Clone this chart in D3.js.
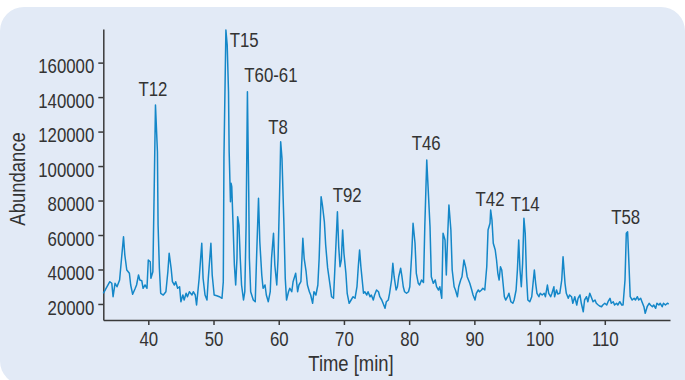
<!DOCTYPE html>
<html><head><meta charset="utf-8">
<script src="https://cdn.jsdelivr.net/npm/d3@7"></script>
<style>
html,body{margin:0;padding:0;background:#fff;}
svg{display:block;}
text{font-family:"Liberation Sans",Arial,sans-serif;fill:#333;}
</style></head><body>
<svg id="c" width="685" height="380"></svg>
<script>
const time = [33.1,34.1,34.4,34.6,34.9,35.2,35.6,35.9,36.2,36.4,36.7,37.1,37.3,37.6,38.0,38.2,38.5,38.7,39.0,39.2,39.5,39.8,40.0,40.3,40.4,40.7,40.9,41.1,41.4,41.5,41.7,41.9,42.3,42.7,43.0,43.2,43.5,43.7,44.0,44.2,44.5,44.8,45.0,45.3,45.5,45.8,46.0,46.3,46.7,46.9,47.2,47.4,47.8,48.2,48.4,48.7,49.0,49.2,49.6,49.8,50.1,50.5,50.9,
51.3,51.5,51.6,51.9,52.1,52.3,52.4,52.6,52.7,52.8,53.0,53.2,53.4,53.6,53.7,53.9,54.1,54.3,54.6,54.8,55.0,55.2,55.4,55.5,55.7,56.1,56.4,56.6,56.9,57.1,57.4,57.6,57.9,58.1,58.4,58.7,58.9,59.2,59.4,59.7,59.9,60.2,60.3,60.5,60.8,61.0,61.2,61.5,61.7,62.0,62.2,62.6,62.9,63.1,63.4,63.7,63.9,64.2,64.4,64.7,64.9,65.2,65.4,65.7,66.0,66.2,66.5,66.7,67.0,67.2,67.5,
67.9,68.1,68.4,68.6,69.0,69.2,69.4,69.6,69.8,70.0,70.3,70.5,70.8,71.1,71.4,71.7,72.0,72.2,72.4,72.6,72.8,73.0,73.2,73.5,73.7,74.0,74.2,74.5,74.7,75.0,75.3,75.5,75.8,76.0,76.3,76.5,76.8,77.0,77.3,77.5,77.7,78.0,78.2,78.4,78.7,78.9,79.1,79.3,79.6,79.9,80.1,80.4,80.6,80.9,81.1,81.4,81.6,81.9,82.2,82.4,82.7,82.9,83.2,83.4,83.7,84.0,84.2,84.5,84.7,
85.0,85.2,85.5,85.7,85.9,86.1,86.4,86.6,86.9,87.1,87.4,87.6,87.9,88.1,88.4,88.7,88.9,89.1,89.3,89.6,89.8,90.1,90.3,90.6,90.8,91.1,91.3,91.6,91.9,92.1,92.4,92.5,92.7,92.9,93.2,93.4,93.6,93.8,94.0,94.2,94.4,94.6,94.8,95.1,95.3,95.6,95.9,96.1,96.4,96.6,96.8,97.0,97.2,97.4,97.6,97.8,98.0,98.2,98.5,98.8,99.0,99.2,99.4,99.6,99.9,100.1,100.4,100.7,100.9,101.2,101.4,101.7,101.9,102.2,102.3,102.6,102.8,103.1,103.4,103.6,103.9,104.1,104.4,104.6,104.9,105.1,105.4,105.7,105.9,106.2,106.4,106.7,106.9,107.2,107.4,107.7,108.0,108.2,108.5,108.7,109.0,109.2,109.5,109.7,110.0,110.3,110.5,110.8,111.0,111.3,111.5,111.8,112.0,112.3,112.6,112.8,113.1,113.3,113.5,113.7,113.9,114.2,114.5,114.7,115.0,115.2,115.5,115.7,116.0,116.2,116.5,116.8,117.0,117.3,117.5,117.8,118.0,118.3,118.5,118.8,119.0,119.3,119.6,119.8];

const abundance = [26200,32900,32000,24200,32000,30000,33900,46500,59000,48400,39700,37800,31000,25600,29100,31000,36800,33900,33500,29100,31000,29100,45500,44500,34900,38700,85100,135400,108300,65800,40700,26200,25200,27100,38700,49400,40700,32900,31000,32900,29100,30000,21300,25200,22300,26200,24200,27100,25200,27100,25200,19400,34900,55200,34900,25200,22300,34900,55200,36800,25200,24800,24200,
23300,32900,104500,178900,170200,143100,108300,79300,90000,88000,65800,42600,31000,46500,70600,65800,46500,31000,22300,27100,65800,143100,85100,46500,27100,22300,21300,46500,81300,56100,36800,29100,31000,25200,21300,27100,46500,61000,42600,31000,46500,94800,114100,104500,65800,34900,22300,27100,29100,27100,32900,37800,27100,31000,32900,58100,46500,38700,31000,27100,25200,20400,27100,25200,31000,46500,82200,77400,67600,54200,40900,
30000,24200,23300,39700,73500,53200,41600,45500,62900,49400,37800,26200,20400,22300,24200,23300,30000,41600,51300,41600,33900,26200,27100,25200,27100,24200,25200,22300,25200,28100,27100,24200,22300,20400,17500,21300,22300,26200,33900,43600,35800,28100,30000,35800,40700,35800,30000,27100,26200,27100,30000,49400,66800,55200,37800,32000,31000,33900,32500,64800,103500,88000,64800,35800,32000,33900,30000,28100,30000,
23300,61000,57100,36800,59000,77400,62900,39700,30000,28100,24200,30000,33900,35800,45500,40700,35800,33900,32000,28100,25200,22300,26200,28100,27100,28100,29100,28100,41600,62900,66800,74500,68700,55200,51300,45500,37800,33900,41600,39700,32000,24200,22300,24200,26200,21300,20400,22300,28100,39700,57100,39700,30000,43600,69700,61000,35800,22300,21300,24200,32000,39700,32000,26200,24200,26200,25200,26200,24200,31000,26200,24200,26200,30000,24200,28100,25800,26200,33900,47400,32000,26200,23300,25200,24200,20400,24200,19400,23300,25200,20400,15500,22300,24200,21300,26200,23300,21300,22300,20400,19400,18800,18400,19400,20400,19400,21300,23300,20400,21300,19400,20400,19400,21300,19400,19400,33900,61000,61900,43600,24200,22300,23300,22300,24200,22300,23300,21300,18400,14600,18400,20400,19400,18400,19400,17500,20400,19400,20400,18400,20400,19400,20400,20000];

const xTicks = [40,50,60,70,80,90,100,110];
const yTicks = [20000,40000,60000,80000,100000,120000,140000,160000];
const peakLabels = ["T12","T15","T60-61","T8","T92","T46","T42","T14","T58"];
const peakTimes  = [40.7,54.7,58.8,59.9,70.5,82.6,92.4,97.8,113.2];
const peakValues = [140600,169300,148600,118400,79300,109300,76800,73900,66400];
const xTitle = "Time [min]";
const yTitle = "Abundance";

const SX = 0.82; // narrow-font emulation
function squeeze(sel){
  sel.each(function(){
    const t = d3.select(this);
    const px = +t.attr("x") || 0, py = +t.attr("y") || 0;
    t.attr("x",0).attr("y",0).attr("transform",`translate(${px},${py}) scale(${SX},1)`);
  });
}

const svg = d3.select("#c");
const bg = "#e2eaf6";
svg.append("rect").attr("x",0).attr("y",7).attr("width",685).attr("height",378).attr("rx",24).attr("fill",bg);
svg.append("rect").attr("x",640).attr("y",340).attr("width",45).attr("height",40).attr("fill",bg);

const x = d3.scaleLinear().domain([33.1,120]).range([103.3,670]);
const y = d3.scaleLinear().domain([10700,179500]).range([320,29]);

const fs = 20.5;
const gx = svg.append("g").attr("transform","translate(0,320)")
  .call(d3.axisBottom(x).tickValues(xTicks).tickSize(5).tickSizeOuter(0).tickPadding(6).tickFormat(d3.format("d")));
const gy = svg.append("g").attr("transform","translate(103.3,0)")
  .call(d3.axisLeft(y).tickValues(yTicks).tickSize(5).tickSizeOuter(0).tickPadding(4).tickFormat(d3.format("d")));
[gx,gy].forEach(g=>{
  g.attr("font-family",null).attr("font-size",null);
  g.selectAll("path,line").attr("stroke","#3a3a3a").attr("stroke-width",1.5);
  g.selectAll("text").style("font-size",fs+"px").attr("fill","#333");
});
gy.selectAll("text").attr("dy","0.5em");
squeeze(gx.selectAll("text"));
squeeze(gy.selectAll("text"));

svg.append("text").attr("x",351).attr("y",371).attr("text-anchor","middle").style("font-size","22.5px").text(xTitle).call(squeeze);
svg.append("text").attr("transform",`translate(25,179) rotate(-90) scale(${SX},1)`).attr("text-anchor","middle").style("font-size","22.5px").text(yTitle);

const pts = time.map((t,i)=>[t,abundance[i]]);
svg.append("path").datum(pts)
  .attr("fill","none").attr("stroke","#1487c8").attr("stroke-width",1.5).attr("stroke-linejoin","round")
  .attr("d", d3.line().x(d=>x(d[0])).y(d=>y(d[1])));

svg.append("g").selectAll("text").data(peakLabels).join("text")
  .attr("x",(d,i)=>x(peakTimes[i])).attr("y",(d,i)=>y(peakValues[i]))
  .attr("text-anchor","middle").style("font-size",fs+"px").text(d=>d)
  .call(squeeze);
</script></body></html>
